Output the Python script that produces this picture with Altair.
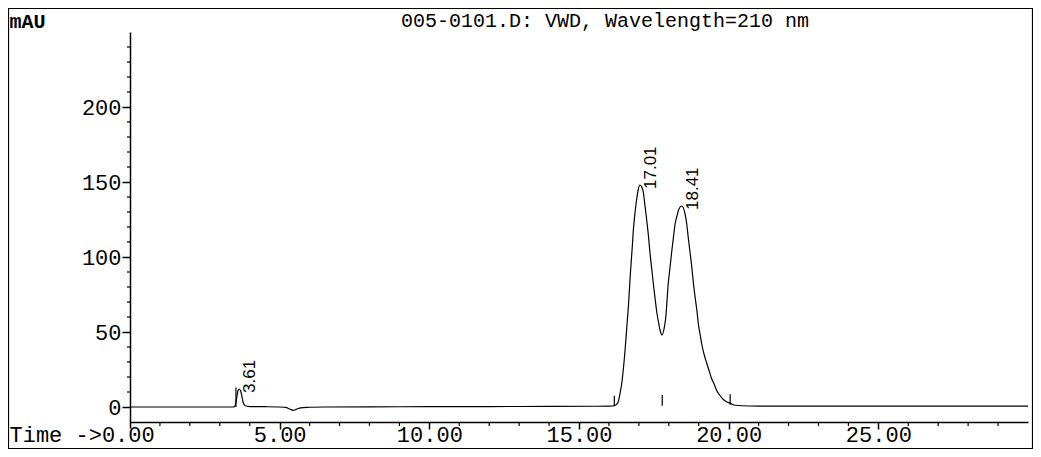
import altair as alt
import pandas as pd

# Detector trace (time in min, signal in mAU)
trace_time = [0.00, 1.00, 2.00, 3.00, 3.45, 3.50, 3.54, 3.58, 3.61, 3.65, 3.70, 3.74, 3.78, 3.85,
              4.00, 4.50, 5.00, 5.20, 5.35, 5.45, 5.55, 5.70, 5.90, 6.50, 8.00, 10.00, 12.00,
              14.00, 15.50, 16.00, 16.20, 16.30, 16.37, 16.43, 16.48, 16.54, 16.60, 16.66,
              16.71, 16.77, 16.82, 16.88, 16.93, 16.98, 17.03, 17.09, 17.15, 17.20, 17.26,
              17.32, 17.37, 17.43, 17.49, 17.55, 17.60, 17.66, 17.71, 17.78, 17.84, 17.90,
              17.98, 18.04, 18.10, 18.16, 18.21, 18.27, 18.32, 18.43, 18.54, 18.60, 18.65,
              18.71, 18.77, 18.82, 18.88, 18.94, 18.99, 19.05, 19.10, 19.18, 19.27, 19.35,
              19.43, 19.52, 19.60, 19.70, 19.82, 19.93, 20.05, 20.15, 20.30, 21.00, 25.00, 30.00]
trace_mau = [0.0, 0.0, 0.0, 0.0, 0.0, 0.5, 3.0, 8.0, 11.0, 12.0, 10.5, 7.0, 3.0, 0.8,
             0.3, 0.2, 0.0, -0.3, -1.5, -2.2, -1.6, -0.6, -0.2, 0.0, 0.1, 0.2, 0.3,
             0.4, 0.5, 0.6, 1.0, 3.0, 9.0, 16.0, 25.0, 38.0, 54.0, 70.0,
             87.0, 104.0, 119.0, 131.0, 139.0, 145.0, 148.0, 147.0, 143.0, 135.0, 125.0,
             114.0, 103.0, 92.0, 81.0, 71.0, 63.0, 56.0, 51.0, 48.0, 52.0, 60.0,
             82.0, 93.0, 104.0, 114.0, 122.0, 127.0, 131.0, 134.0, 129.0, 122.0, 113.0,
             103.0, 93.0, 83.0, 73.0, 64.0, 55.0, 48.0, 42.0, 35.0, 29.0, 24.0,
             19.0, 15.0, 11.0, 8.0, 5.0, 3.5, 2.5, 1.5, 1.0, 0.6, 0.6, 0.6]

# Peak annotations
peak_times = [3.61, 17.01, 18.41]
peak_heights = [12.0, 148.0, 134.0]
peak_labels = ["3.61", "17.01", "18.41"]

# Integration baseline markers
marker_times = [3.54, 16.18, 17.78, 20.05]
marker_low = [0.0, 0.5, 0.8, 1.5]
marker_high = [13.0, 7.5, 8.0, 8.5]

# Axis ticks
x_major = [5, 10, 15, 20, 25]
x_minor = [1, 2, 3, 4, 6, 7, 8, 9, 11, 12, 13, 14, 16, 17, 18, 19, 21, 22, 23, 24, 26, 27, 28, 29]
y_major = [0, 50, 100, 150, 200]
y_minor = [10, 20, 30, 40, 60, 70, 80, 90, 110, 120, 130, 140, 160, 170, 180, 190, 210, 220, 230, 240]

title_text = ["005-0101.D: VWD, Wavelength=210 nm"]

X_DOMAIN = [0, 30]
Y_DOMAIN = [-14, 250]
W, H = 898, 396
AXIS_OFF = 6  # x axis drawn at -10 mAU, 6 px above the bottom of the y axis
MONO = "Liberation Mono"

xs = alt.Scale(domain=X_DOMAIN, nice=False, zero=False)
ys = alt.Scale(domain=Y_DOMAIN, nice=False, zero=False)

trace_df = pd.DataFrame({"t": trace_time, "v": trace_mau})
peaks_df = pd.DataFrame({"t": peak_times, "v": peak_heights, "label": peak_labels})
markers_df = pd.DataFrame({"t": marker_times, "v": marker_low, "hi": marker_high})
xminor_df = pd.DataFrame({"t": x_minor})
yminor_df = pd.DataFrame({"v": y_minor})
title_df = pd.DataFrame({"text": title_text})

x_axis = alt.Axis(
    values=x_major, format=".2f", tickSize=7, tickWidth=1.5, tickColor="black",
    domainColor="black", domainWidth=1.5, offset=-AXIS_OFF,
    labelFont=MONO, labelFontSize=22, labelColor="black",
    labelBaseline="alphabetic", labelPadding=12, labelFlush=False,
    grid=False, title="Time ->0.00", titleFont=MONO, titleFontSize=22,
    titleFontWeight="normal", titleColor="black", titleAngle=0,
    titleAlign="left", titleBaseline="alphabetic", titleX=-121, titleY=19)
y_axis = alt.Axis(
    values=y_major, tickSize=8, tickWidth=1.5, tickColor="black",
    domainColor="black", domainWidth=1.5,
    labelFont=MONO, labelFontSize=22, labelColor="black", labelPadding=1,
    labelBaseline="middle", labelFlush=False, grid=False,
    title="mAU", titleFont=MONO, titleFontSize=20, titleFontWeight="bold",
    titleColor="black", titleAngle=0, titleAlign="left",
    titleBaseline="alphabetic", titleX=-121, titleY=-5)

X = alt.X("t:Q", scale=xs, axis=x_axis)
Y = alt.Y("v:Q", scale=ys, axis=y_axis)

line = alt.Chart(trace_df).mark_line(color="black", strokeWidth=1.2, interpolate="monotone").encode(
    x=X, y=Y,
)

markers = alt.Chart(markers_df).mark_rule(color="black", strokeWidth=1.2).encode(
    x=X, y=Y, y2="hi:Q",
)

labels = alt.Chart(peaks_df).mark_text(
    angle=270, align="left", baseline="top", dx=-4, dy=4,
    font="Liberation Sans", fontSize=17, color="black",
).encode(x=X, y=Y, text="label:N")

xminor = alt.Chart(xminor_df).mark_rule(color="black", strokeWidth=1.2).encode(
    x=X,
    y=alt.value(H - AXIS_OFF),
    y2=alt.value(H - AXIS_OFF + 4),
)

yminor = alt.Chart(yminor_df).mark_rule(color="black", strokeWidth=1.2).encode(
    y=Y,
    x=alt.value(-3),
    x2=alt.value(0),
)

frame = alt.Chart(title_df).mark_rect(
    filled=False, stroke="black", strokeWidth=1.2
).encode(
    x=alt.value(-121.5), x2=alt.value(902.5),
    y=alt.value(-23.5), y2=alt.value(416.5),
)

title = alt.Chart(title_df).mark_text(
    font=MONO, fontSize=20, color="black", align="center", baseline="alphabetic"
).encode(
    x=alt.value(475), y=alt.value(-5), text="text:N",
)

chart = alt.layer(line, markers, labels, xminor, yminor, frame, title).properties(
    width=W, height=H,
    autosize="none",
    padding={"left": 122, "top": 24, "right": 5, "bottom": 21},
).configure_view(stroke=None)

chart.save("out.html", embed_options={"renderer": "svg", "actions": False})
